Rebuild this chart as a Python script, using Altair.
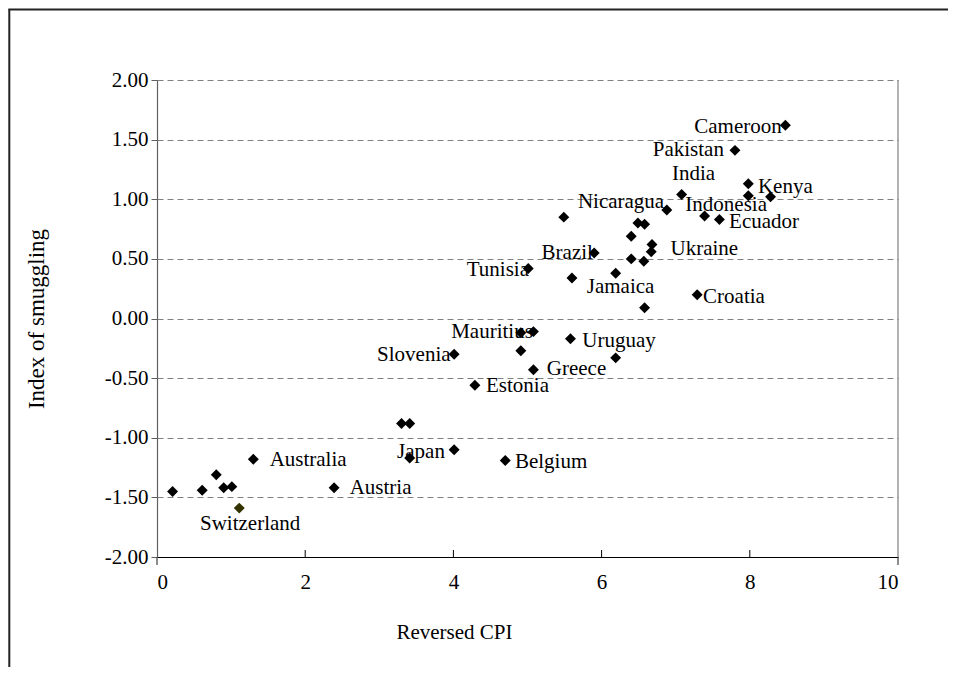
import altair as alt
import pandas as pd

# ---- data ----
pt_x = [0.21, 0.61, 0.80, 0.90, 1.01, 1.11, 1.30, 2.39, 3.30, 3.41,
        3.41, 4.01, 4.70, 4.01, 4.29, 4.91, 5.08, 4.91, 5.08, 5.58,
        6.19, 6.58, 5.01, 5.60, 5.49, 5.90, 6.19, 6.40, 6.57, 6.40,
        6.49, 6.58, 6.68, 6.67, 6.88, 7.08, 7.39, 7.59, 7.29, 7.98,
        7.98, 8.28, 7.80, 8.48]
pt_y = [-1.45, -1.44, -1.31, -1.42, -1.41, -1.59, -1.18, -1.42, -0.88, -0.88,
        -1.17, -1.10, -1.19, -0.30, -0.56, -0.12, -0.11, -0.27, -0.43, -0.17,
        -0.33, 0.09, 0.42, 0.34, 0.85, 0.55, 0.38, 0.50, 0.48, 0.69,
        0.80, 0.79, 0.62, 0.56, 0.91, 1.04, 0.86, 0.83, 0.20, 1.13,
        1.03, 1.02, 1.41, 1.62]
pt_group = ["other"] * 44
pt_group[5] = "Switzerland"

label_text = ["Cameroon", "Pakistan", "India", "Kenya", "Indonesia", "Ecuador",
              "Croatia", "Ukraine", "Nicaragua", "Brazil", "Tunisia", "Jamaica",
              "Mauritius", "Uruguay", "Slovenia", "Greece", "Estonia", "Japan",
              "Belgium", "Australia", "Austria", "Switzerland"]
label_x = [7.25, 6.69, 6.95, 8.11, 7.13, 7.72,
           7.37, 6.93, 5.68, 5.19, 4.18, 5.80,
           3.97, 5.74, 2.97, 5.26, 4.44, 3.24,
           4.83, 1.52, 2.60, 0.58]
label_y = [1.61, 1.41, 1.21, 1.105, 0.95, 0.81,
           0.18, 0.58, 0.98, 0.55, 0.41, 0.26,
           -0.11, -0.19, -0.31, -0.42, -0.57, -1.12,
           -1.20, -1.19, -1.42, -1.72]

x_ticks = [0, 2, 4, 6, 8, 10]
x_inner_ticks = [2, 4, 6, 8]
x_end_ticks = [0, 10]
x_right = [10]
y_ticks = [-2.0, -1.5, -1.0, -0.5, 0.0, 0.5, 1.0, 1.5, 2.0]

W, H = 741, 477
FONT = "Liberation Serif"
FS = 21

pts = pd.DataFrame({"x": pt_x, "y": pt_y, "g": pt_group})
labs = pd.DataFrame({"t": label_text, "x": label_x, "y": label_y})
inner = pd.DataFrame({"t": x_inner_ticks})
ends = pd.DataFrame({"t": x_end_ticks})
right = pd.DataFrame({"t": x_right})

xscale = alt.Scale(domain=[0, 10], nice=False, zero=False)
yscale = alt.Scale(domain=[-2, 2], nice=False, zero=False)

xaxis = alt.Axis(values=x_ticks, format="d", ticks=False, tickSize=0, labelPadding=14,
                 domainColor="#000000", domainWidth=1.2, grid=False,
                 title="Reversed CPI",
                 titleX=297, titleY=75, titleBaseline="middle", titleAlign="center")
yaxis = alt.Axis(values=y_ticks, tickSize=6, tickColor="#606060", domainColor="#606060",
                 domainWidth=1.2, labelPadding=3, grid=True, gridDash=[6, 4],
                 gridColor="#808080", gridWidth=1,
                 labelExpr="(datum.value < 0 ? '-' : '') + format(abs(datum.value), '.2f')",
                 title="Index of smuggling", titleFontSize=23,
                 titleX=-121, titleY=H / 2, titleBaseline="middle", titleAlign="center")


def X(field):
    return alt.X(field, scale=xscale, axis=xaxis)


def Y(field):
    return alt.Y(field, scale=yscale, axis=yaxis)


base_pts = alt.Chart(pts).mark_point(shape="diamond", filled=True, size=120, opacity=1).encode(
    x=X("x:Q"),
    y=Y("y:Q"),
    color=alt.Color("g:N", scale=alt.Scale(domain=["other", "Switzerland"],
                                           range=["#000000", "#333300"]), legend=None),
)

labels = alt.Chart(labs).mark_text(align="left", baseline="middle", font=FONT,
                                   fontSize=FS, color="#000000").encode(
    x=X("x:Q"), y=Y("y:Q"), text="t:N")

right_border = alt.Chart(right).mark_rule(color="#808080", strokeWidth=1.2).encode(
    x=X("t:Q"), y=alt.value(0), y2=alt.value(H))

inner_ticks = alt.Chart(inner).mark_rule(color="#000000", strokeWidth=1).encode(
    x=X("t:Q"), y=alt.value(H), y2=alt.value(H - 7))

end_ticks = alt.Chart(ends).mark_rule(color="#404040", strokeWidth=1.2).encode(
    x=X("t:Q"), y=alt.value(H), y2=alt.value(H + 8))

frame_left = alt.Chart(right).mark_rule(color="#222222", strokeWidth=2).encode(
    x=alt.value(-147.7), y=alt.value(-70.5), y2=alt.value(H + 120))
frame_top = alt.Chart(right).mark_rule(color="#222222", strokeWidth=2).encode(
    x=alt.value(-148.7), x2=alt.value(W + 80), y=alt.value(-70.5))

chart = alt.layer(base_pts, right_border, inner_ticks, end_ticks, labels,
                  frame_left, frame_top).properties(
    width=W, height=H,
    autosize=alt.AutoSizeParams(type="none"),
    padding={"left": 149, "top": 72, "right": 50, "bottom": 110},
    background="#ffffff",
).configure(font=FONT).configure_axis(
    labelFont=FONT, labelFontSize=FS, labelColor="#000000",
    titleFont=FONT, titleFontSize=FS, titleFontWeight="normal", titleColor="#000000",
).configure_view(stroke=None)

chart.save("out.html", embed_options={"renderer": "svg", "actions": False})
